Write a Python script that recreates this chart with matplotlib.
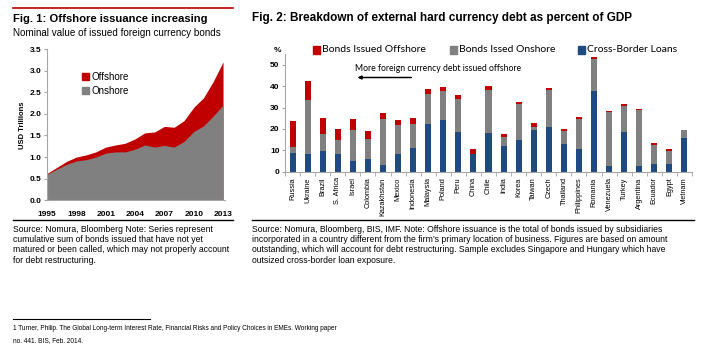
import matplotlib
matplotlib.use("Agg")
from matplotlib import pyplot as plt
from matplotlib.patches import Rectangle
from matplotlib.lines import Line2D
import numpy as np

plt.rcParams['font.family'] = ['Liberation Sans', 'DejaVu Sans']

# Fig. 1 data: USD trillions
years = [1995, 1996, 1997, 1998, 1999, 2000, 2001, 2002, 2003, 2004,
         2005, 2006, 2007, 2008, 2009, 2010, 2011, 2012, 2013]
onshore = [0.60, 0.72, 0.83, 0.91, 0.94, 1.00, 1.09, 1.12, 1.12, 1.18,
           1.28, 1.23, 1.27, 1.23, 1.36, 1.59, 1.72, 1.95, 2.20]
total = [0.62, 0.76, 0.90, 1.00, 1.05, 1.12, 1.23, 1.28, 1.32, 1.42,
         1.56, 1.58, 1.71, 1.69, 1.84, 2.15, 2.37, 2.75, 3.20]

# Fig. 2 data: percent of GDP (stacked)
countries = ["Russia", "Ukraine", "Brazil", "S. Africa", "Israel", "Colombia",
             "Kazakhstan", "Mexico", "Indonesia", "Malaysia", "Poland", "Peru",
             "China", "Chile", "India", "Korea", "Taiwan", "Czech", "Thailand",
             "Philippines", "Romania", "Venezuela", "Turkey", "Argentina",
             "Ecuador", "Egypt", "Vietnam"]
loans = [8.9, 8.2, 9.8, 8.1, 5.1, 5.9, 3.3, 8.2, 11.2, 22.4, 24.2, 18.5,
         8.1, 18.2, 12.1, 14.9, 19.6, 21.0, 13.0, 10.7, 37.7, 2.8, 18.5,
         2.8, 3.6, 3.7, 15.7]
bonds_onshore = [2.6, 25.5, 7.9, 6.8, 14.6, 9.5, 21.1, 13.4, 11.2, 14.1, 13.4, 15.7,
                 0.4, 19.8, 4.0, 16.6, 1.5, 17.2, 5.9, 14.1, 15.1, 25.2, 12.4,
                 25.9, 9.1, 6.1, 3.7]
bonds_offshore = [12.3, 8.5, 7.3, 5.1, 4.7, 3.7, 2.9, 2.5, 2.6, 2.3, 2.0, 1.8,
                  2.2, 1.9, 1.3, 1.3, 1.6, 0.8, 1.0, 0.8, 0.8, 0.4, 0.6,
                  0.6, 0.7, 0.6, 0.0]

RED = "#C00000"
GRAY = "#808080"
BLUE = "#1F4A7F"
AXC = "#A6A6A6"

W, H = 720, 350
fig = plt.figure(figsize=(7.2, 3.5), dpi=100)


def fx(x):
    return x / W


def fy(y):
    return 1 - y / H


def hline(x0, x1, y, color="black", lw=1.0):
    fig.add_artist(Line2D([fx(x0), fx(x1)], [fy(y), fy(y)], color=color, lw=lw,
                          transform=fig.transFigure))


def square(x, y, s, color):
    fig.add_artist(Rectangle((fx(x), fy(y + s)), s / W, s / H, color=color,
                             transform=fig.transFigure))


# ---------- Fig. 1 ----------
hline(13, 233, 8, color=RED, lw=1.2)
fig.text(fx(13), fy(19), "Fig. 1: Offshore issuance increasing", fontsize=8.1,
         fontweight="bold", va="center")
fig.text(fx(13), fy(33), "Nominal value of issued foreign currency bonds",
         fontsize=7.1, va="center")

ax1 = fig.add_axes([fx(47), fy(200.3), fx(225) - fx(47), fy(49) - fy(200.3)])
ax1.fill_between(years, 0, total, color=RED, lw=0)
ax1.fill_between(years, 0, onshore, color=GRAY, lw=0)
ax1.set_xlim(1995, 2013.2)
ax1.set_ylim(0, 3.5)
ax1.set_xticks(range(1995, 2014, 3))
ax1.set_yticks(np.arange(0, 3.6, 0.5))
ax1.set_yticklabels([f"{v:.1f}" for v in np.arange(0, 3.6, 0.5)])
ax1.tick_params(axis="x", length=0, labelsize=6, pad=8)
ax1.tick_params(axis="y", length=2, color=AXC, labelsize=6, pad=2)
for lab in ax1.get_xticklabels() + ax1.get_yticklabels():
    lab.set_fontweight("bold")
for s in ["top", "right"]:
    ax1.spines[s].set_visible(False)
for s in ["left", "bottom"]:
    ax1.spines[s].set_color(AXC)
    ax1.spines[s].set_linewidth(0.8)
fig.text(fx(22), fy(125), "USD Trillions", rotation=90, fontsize=5.5,
         fontweight="bold", va="center", ha="center")

square(82, 73, 7, RED)
fig.text(fx(91), fy(76.5), "Offshore", fontsize=7, va="center")
square(82, 87, 7, GRAY)
fig.text(fx(91), fy(90.5), "Onshore", fontsize=7, va="center")

hline(13, 233, 220)
left_note = ["Source: Nomura, Bloomberg Note: Series represent",
             "cumulative sum of bonds issued that have not yet",
             "matured or been called, which may not properly account",
             "for debt restructuring."]
for i, line in enumerate(left_note):
    fig.text(fx(13), fy(229.5 + i * 10.2), line, fontsize=6.2, va="center")

# ---------- Fig. 2 ----------
fig.text(fx(252), fy(18), "Fig. 2: Breakdown of external hard currency debt as percent of GDP",
         fontsize=8.5, fontweight="bold", va="center")

ax2 = fig.add_axes([fx(285), fy(171.7), fx(692) - fx(285), fy(54) - fy(171.7)])
x = np.arange(len(countries))
b1 = np.array(loans)
b2 = b1 + np.array(bonds_onshore)
ax2.bar(x, loans, width=0.4, color=BLUE)
ax2.bar(x, bonds_onshore, width=0.4, bottom=b1, color=GRAY)
ax2.bar(x, bonds_offshore, width=0.4, bottom=b2, color=RED)
ax2.set_xlim(-0.5, len(countries) - 0.5)
ax2.set_ylim(0, 55)
ax2.set_yticks(range(0, 51, 10))
ax2.set_xticks(x)
ax2.set_xticklabels(countries, rotation=90, fontsize=5.3)
ax2.set_xticks(np.arange(-0.5, len(countries), 1), minor=True)
ax2.tick_params(axis="x", which="major", length=0, pad=4)
ax2.tick_params(axis="x", which="minor", length=3, color=AXC)
ax2.tick_params(axis="y", length=2, color=AXC, labelsize=6, pad=2)
for lab in ax2.get_yticklabels():
    lab.set_fontweight("bold")
for s in ["top", "right"]:
    ax2.spines[s].set_visible(False)
for s in ["left", "bottom"]:
    ax2.spines[s].set_color(AXC)
    ax2.spines[s].set_linewidth(0.8)
fig.text(fx(274), fy(50.5), "%", fontsize=6, fontweight="bold", va="center")

leg = [(313, RED, "Bonds Issued Offshore"), (450, GRAY, "Bonds Issed Onshore"),
       (578, BLUE, "Cross-Border Loans")]
for lx, c, t in leg:
    square(lx, 46.5, 7, c)
    fig.text(fx(lx + 9), fy(50), t, fontsize=7.5, va="center", family=["Lato", "DejaVu Sans"])

fig.text(fx(355), fy(68.5), "More foreign currency debt issued offshore", fontsize=6.2,
         va="center", family=["Lato", "DejaVu Sans"])
fig.add_artist(plt.annotate("", xy=(fx(355), fy(77.5)), xytext=(fx(414), fy(77.5)),
                            xycoords="figure fraction", textcoords="figure fraction",
                            arrowprops=dict(arrowstyle="-|>", color="black", lw=0.9,
                                            mutation_scale=5)))

hline(252, 694, 220)
right_note = ["Source: Nomura, Bloomberg, BIS, IMF. Note: Offshore issuance is the total of bonds issued by subsidiaries",
              "incorporated in a country different from the firm\u2019s primary location of business. Figures are based on amount",
              "outstanding, which will account for debt restructuring. Sample excludes Singapore and Hungary which have",
              "outsized cross-border loan exposure."]
for i, line in enumerate(right_note):
    fig.text(fx(252), fy(229.5 + i * 10.2), line, fontsize=6.2, va="center")

# ---------- footnote ----------
hline(13, 150, 319, lw=0.8)
foot = ["1 Turner, Philip. The Global Long-term Interest Rate, Financial Risks and Policy Choices in EMEs. Working paper",
        "no. 441. BIS, Feb. 2014."]
for i, line in enumerate(foot):
    fig.text(fx(13), fy(329 + i * 12), line, fontsize=4.7, va="center")

fig.savefig("out.png", dpi=100)
